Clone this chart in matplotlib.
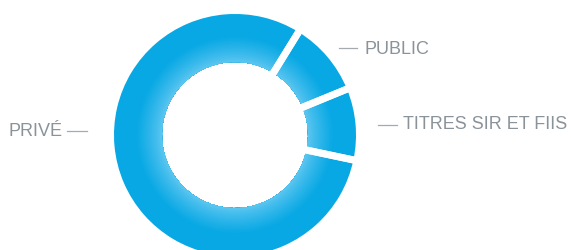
import numpy as np
import matplotlib.pyplot as plt
from matplotlib.colors import to_rgb

# shares, counterclockwise from the top gap
labels = ["PRIVÉ", "TITRES SIR ET FIIS", "PUBLIC"]
values = [80.5, 9.5, 10.0]

fig = plt.figure(figsize=(5.71, 2.5), dpi=100)
ax = fig.add_axes([0, 0, 1, 1])

cx, cy = 235, 115
r_in, r_out = 73, 121
start = 58.3

light = np.array(to_rgb("#62c8f1"))
dark = np.array(to_rgb("#07a8e4"))

# radial gradient: nested donuts, outermost first, each reaching the hole
n = 40
radii = np.linspace(r_out, r_in + 1, n)
for r in radii:
    t = (r - r_in) / (r_out - r_in)
    c = light + (dark - light) * min(1.0, t / 0.55) ** 0.8
    ax.pie(values, radius=r, center=(cx, cy), startangle=start,
           colors=[c] * 3,
           wedgeprops=dict(width=r - r_in, linewidth=0))

# white gaps between slices
gap = 7
ax.pie(values, radius=r_out + gap / 2 + 2, center=(cx, cy), startangle=start,
       colors=["none"] * 3,
       wedgeprops=dict(width=r_out - r_in + gap + 4, edgecolor="white",
                       linewidth=gap * 72 / 100, fill=False))

txt = "#8a9399"
line = "#a3abb0"
font = "Liberation Sans"

ax.plot([339, 357], [202, 202], color=line, lw=0.9)
ax.text(364, 195.5, labels[2], color=txt, fontsize=13, family=font, va="baseline")

ax.plot([378, 397], [125, 125], color=line, lw=0.9)
ax.text(403, 121, labels[1], color=txt, fontsize=13, family=font, va="baseline")

ax.plot([67, 87], [119, 119], color=line, lw=0.9)
ax.text(9, 113.5, labels[0], color=txt, fontsize=13, family=font, va="baseline")

ax.set_xlim(0, 571)
ax.set_ylim(0, 250)
ax.set_aspect("equal")
ax.axis("off")

fig.savefig("out.png", dpi=100)
